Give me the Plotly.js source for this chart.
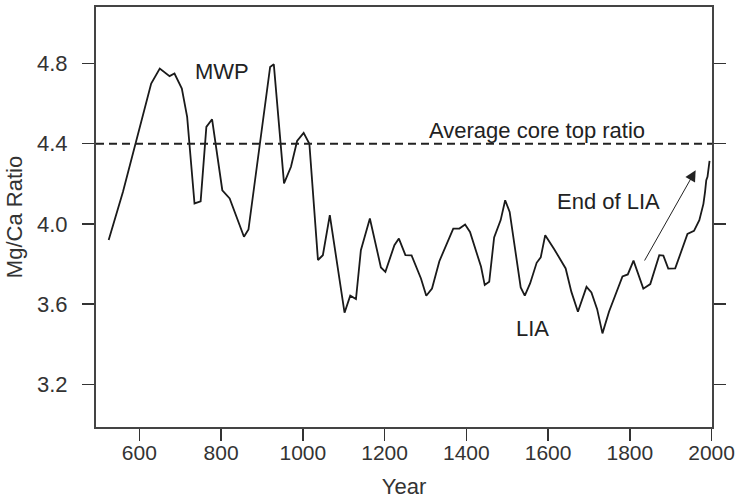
<!DOCTYPE html>
<html>
<head>
<meta charset="utf-8">
<script src="https://cdn.plot.ly/plotly-3.0.1.min.js"></script>
<style>html,body{margin:0;padding:0;background:#fff;}#chart{width:737px;height:500px;}</style>
</head>
<body>
<div id="chart"></div>
<script>
const years = [525, 560, 629, 650, 674, 686, 704, 717, 735, 750, 764, 778, 803, 821, 856, 867, 920, 929, 954, 971, 986, 1002, 1016, 1037, 1049, 1066, 1102, 1116, 1130, 1142, 1164, 1191, 1202, 1224, 1235, 1251, 1266, 1289, 1302, 1316, 1334, 1348, 1368, 1383, 1397, 1409, 1436, 1445, 1456, 1468, 1484, 1495, 1506, 1533, 1543, 1556, 1572, 1582, 1593, 1615, 1643, 1657, 1673, 1694, 1706, 1720, 1733, 1749, 1782, 1795, 1809, 1833, 1850, 1872, 1882, 1894, 1911, 1941, 1957, 1970, 1980, 1984, 1987, 1990, 1995];
const mgca = [3.92, 4.16, 4.70, 4.775, 4.737, 4.75, 4.675, 4.534, 4.102, 4.113, 4.484, 4.522, 4.168, 4.127, 3.936, 3.972, 4.783, 4.796, 4.202, 4.285, 4.414, 4.454, 4.40, 3.82, 3.844, 4.044, 3.557, 3.642, 3.625, 3.869, 4.027, 3.783, 3.761, 3.894, 3.927, 3.844, 3.843, 3.728, 3.642, 3.678, 3.814, 3.878, 3.977, 3.977, 3.997, 3.96, 3.786, 3.695, 3.711, 3.933, 4.019, 4.118, 4.06, 3.683, 3.642, 3.703, 3.806, 3.833, 3.944, 3.874, 3.778, 3.661, 3.562, 3.686, 3.658, 3.575, 3.454, 3.562, 3.738, 3.748, 3.817, 3.677, 3.70, 3.844, 3.842, 3.777, 3.778, 3.95, 3.965, 4.019, 4.10, 4.16, 4.218, 4.235, 4.314];
const averageCoreTop = 4.4;
const xTicks = [600, 800, 1000, 1200, 1400, 1600, 1800, 2000];
const yTicks = [3.2, 3.6, 4.0, 4.4, 4.8];
const yTickLabels = ['3.2', '3.6', '4.0', '4.4', '4.8'];
const labels = [
  {text: 'MWP', x: 803, y: 4.76},
  {text: 'Average core top ratio', x: 1574, y: 4.465},
  {text: 'End of LIA', x: 1749, y: 4.11},
  {text: 'LIA', x: 1562, y: 3.48}
];
const arrowTail = {x: 1834, y: 3.81};
const arrowHead = {x: 1961, y: 4.268};

const regular = '"Liberation Sans", Arial, sans-serif';

const trace = {
  x: years, y: mgca, type: 'scatter', mode: 'lines',
  line: {color: '#1a1a1a', width: 1.8}, hoverinfo: 'x+y', showlegend: false
};

const annotations = labels.map(l => ({
  x: l.x, y: l.y, xref: 'x', yref: 'y', text: l.text, showarrow: false,
  font: {family: regular, size: 22, color: '#222'}
}));
annotations.push({
  x: arrowHead.x, y: arrowHead.y, ax: arrowTail.x, ay: arrowTail.y,
  xref: 'x', yref: 'y', axref: 'x', ayref: 'y', text: '', showarrow: true,
  arrowhead: 2, arrowsize: 2.2, arrowwidth: 1, arrowcolor: '#222'
});

const layout = {
  width: 737, height: 500,
  margin: {l: 96, r: 25, t: 7, b: 73},
  paper_bgcolor: '#fff', plot_bgcolor: '#fff',
  showlegend: false,
  xaxis: {
    range: [494, 2001], tickvals: xTicks, ticktext: xTicks.map(String),
    ticks: 'outside', ticklen: 12, tickwidth: 1.5, tickcolor: '#333',
    showline: true, linecolor: '#444', linewidth: 2, mirror: true,
    showgrid: false, zeroline: false,
    tickfont: {family: regular, size: 21, color: '#333'},
    ticklabelstandoff: -6,
    title: {text: 'Year', font: {family: regular, size: 22, color: '#333'}, standoff: 15}
  },
  yaxis: {
    range: [2.987, 5.082], tickvals: yTicks, ticktext: yTickLabels,
    ticks: 'outside', ticklen: 12, tickwidth: 1.5, tickcolor: '#333',
    showline: true, linecolor: '#444', linewidth: 2, mirror: 'ticks',
    showgrid: false, zeroline: false,
    tickfont: {family: regular, size: 22, color: '#333'},
    ticklabelstandoff: 10,
    title: {text: 'Mg/Ca Ratio', font: {family: regular, size: 22, color: '#333'}, standoff: 8}
  },
  shapes: [{
    type: 'line', xref: 'paper', x0: 0, x1: 1, yref: 'y', y0: averageCoreTop, y1: averageCoreTop,
    line: {color: '#222', width: 1.8, dash: '8px,5px'}
  }],
  annotations: annotations
};

Plotly.newPlot('chart', [trace], layout, {displayModeBar: false, staticPlot: true});
</script>
</body>
</html>
